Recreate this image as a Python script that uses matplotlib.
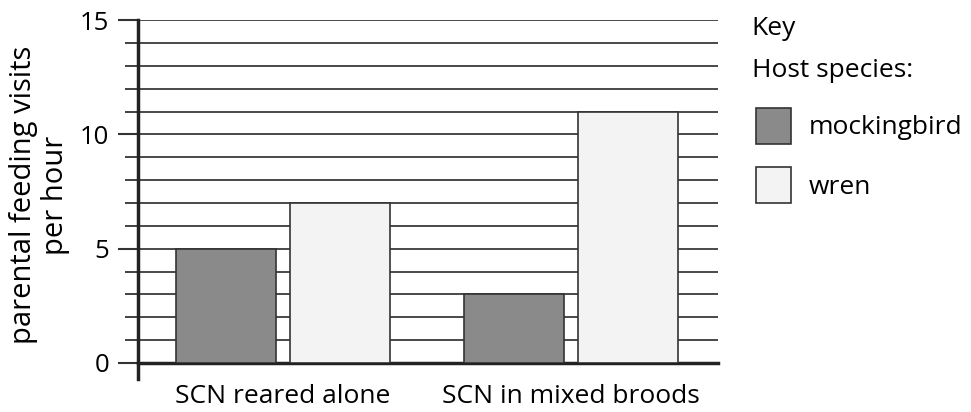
import matplotlib.pyplot as plt
from matplotlib.patches import Patch
from matplotlib.ticker import MultipleLocator
import numpy as np

plt.rcParams['font.family'] = ['Open Sans', 'DejaVu Sans']

### data
groups = ['SCN reared alone', 'SCN in mixed broods']
mockingbird = [5, 3]
wren = [7, 11]
series_names = ['mockingbird', 'wren']
colors = ['#8a8a8a', '#f3f3f3']

### plot
fig = plt.figure(figsize=(9.71, 4.12), dpi=100)
ax = fig.add_axes([0.142, 0.119, 0.597, 0.832])

x = np.arange(len(groups))
w = 0.347
off = 0.197
ax.bar(x - off, mockingbird, w, color=colors[0], edgecolor='#333333', linewidth=1.2, zorder=3)
ax.bar(x + off, wren, w, color=colors[1], edgecolor='#333333', linewidth=1.2, zorder=3)

ax.set_xlim(-0.503, 1.508)
ax.set_ylim(0, 15)
ax.yaxis.set_major_locator(MultipleLocator(5))
ax.yaxis.set_minor_locator(MultipleLocator(1))
ax.grid(axis='y', which='both', color='#3a3a3a', linewidth=1.3, zorder=1)
ax.set_axisbelow(True)

for s in ['top', 'right']:
    ax.spines[s].set_visible(False)
ax.spines['left'].set_linewidth(2.5)
ax.spines['bottom'].set_linewidth(2.5)
ax.spines['left'].set_bounds(-0.72, 15)
ax.spines['left'].set_color('#222222')
ax.spines['bottom'].set_color('#222222')

ax.tick_params(axis='y', which='major', length=14.5, width=1.5, labelsize=18.5, pad=6, color='#333333')
ax.tick_params(axis='y', which='minor', length=9.5, width=1.3, color='#333333')
ax.tick_params(axis='x', length=0, labelsize=19, pad=15)
ax.set_xticks(x)
ax.set_xticklabels(groups)

fig.text(0.041, 0.527, 'parental feeding visits\nper hour', rotation=90, ha='center', va='center',
         fontsize=21, linespacing=1.12)

### key
fig.text(0.774, 0.932, 'Key', fontsize=19, va='center')
fig.text(0.774, 0.83, 'Host species:', fontsize=19, va='center')
handles = [Patch(facecolor=c, edgecolor='#333333', linewidth=1.2) for c in colors]
fig.legend(handles, series_names, loc='upper left', bbox_to_anchor=(0.7786, 0.738),
           frameon=False, fontsize=19, handlelength=1.33, handleheight=1.7,
           labelspacing=0.9, handletextpad=0.65, borderaxespad=0, borderpad=0)

fig.savefig('out.png', dpi=100)
